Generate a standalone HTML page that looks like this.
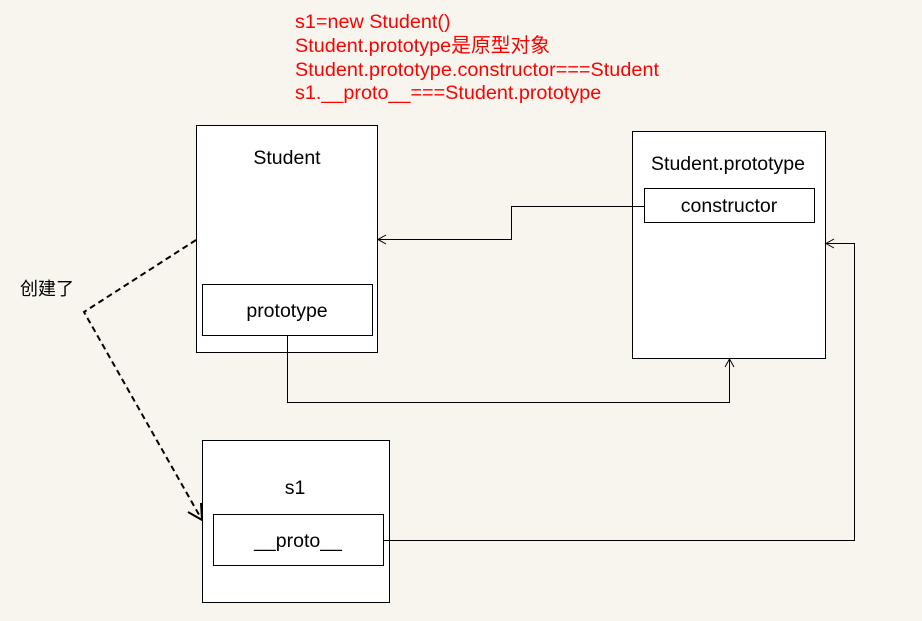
<!DOCTYPE html>
<html><head><meta charset="utf-8"><style>
html,body{margin:0;padding:0;background:#f8f5ef;}
svg{display:block;}
text{font-family:"Liberation Sans","Noto Sans CJK SC",sans-serif;}
</style></head><body>
<svg width="922" height="621" xmlns="http://www.w3.org/2000/svg">
<rect width="922" height="621" fill="#f8f5ef"/>
<g fill="#ff0000" font-size="19.8">
<text x="295" y="28">s1=new Student()</text>
<text x="295" y="52">Student.prototype是原型对象</text>
<text x="295" y="76" textLength="364">Student.prototype.constructor===Student</text>
<text x="295" y="99">s1.__proto__===Student.prototype</text>
</g>
<g fill="#fff" stroke="#000" stroke-width="1">
<rect x="196.5" y="125.5" width="181" height="227"/>
<rect x="202.5" y="284.5" width="170" height="51"/>
<rect x="632.5" y="131.5" width="193" height="227"/>
<rect x="644.5" y="188.5" width="170" height="34"/>
<rect x="202.5" y="440.5" width="187" height="162"/>
<rect x="213.5" y="514.5" width="170" height="51"/>
</g>
<g font-size="19.5" fill="#000" text-anchor="middle">
<text x="287" y="164">Student</text>
<text x="287" y="317">prototype</text>
<text x="728" y="170">Student.prototype</text>
<text x="729" y="212">constructor</text>
<text x="295" y="494">s1</text>
<text x="298" y="547">__proto__</text>
</g>
<text x="20" y="295" font-size="18" fill="#000">创建了</text>
<g fill="none" stroke="#000" stroke-width="1">
<polyline points="644,206.5 511.5,206.5 511.5,239.5 378,239.5"/>
<polyline points="386,235 378,239.5 386,244"/>
<polyline points="287.5,335 287.5,402.5 729.5,402.5 729.5,359"/>
<polyline points="725,367 729.5,359 734,367"/>
<polyline points="383,540.5 854.5,540.5 854.5,243.5 826,243.5"/>
<polyline points="834,239 826,243.5 834,248"/>
</g>
<g fill="none" stroke="#000" stroke-width="2">
<polyline points="196,240 84,312 202,520" stroke-dasharray="6,4"/>
<polyline points="188,512 202,520 201,503"/>
</g>
</svg>
</body></html>
